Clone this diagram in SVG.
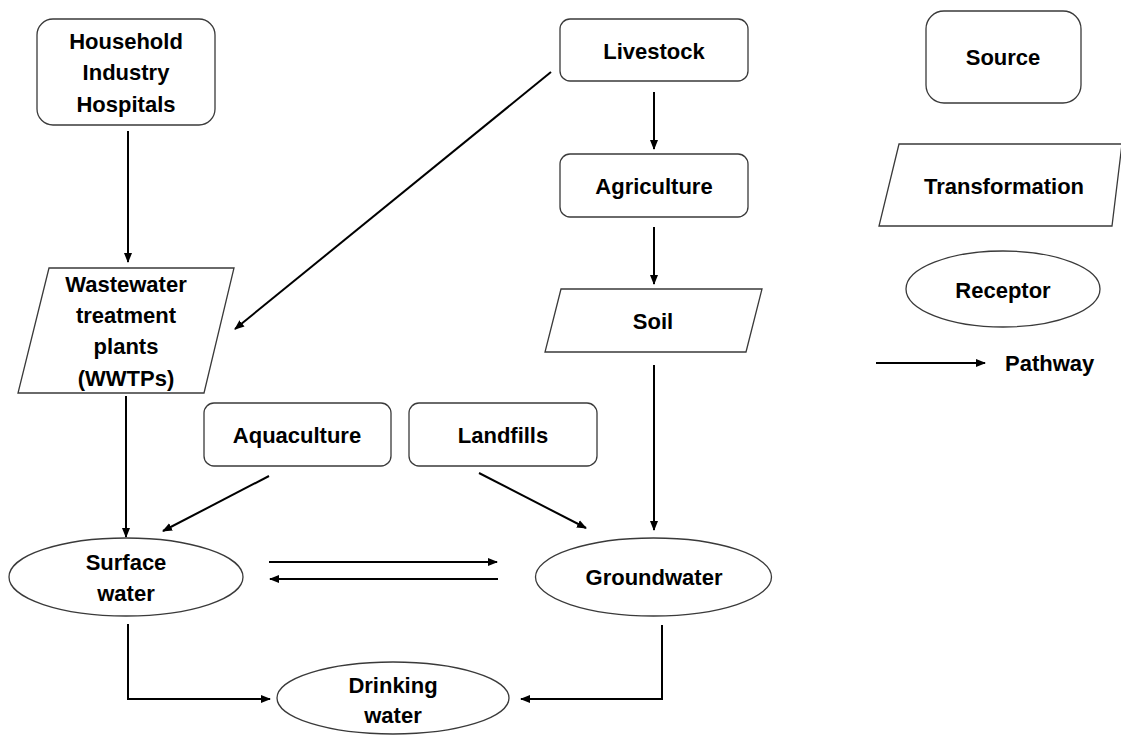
<svg xmlns="http://www.w3.org/2000/svg" width="1121" height="736" viewBox="0 0 1121 736">
<style>
.box{fill:#fff;stroke:#3a3a3a;stroke-width:1.3}
.t{font-family:"Liberation Sans",Arial,sans-serif;font-weight:bold;font-size:22px;fill:#000;text-anchor:middle}
.c{fill:none;stroke:#000;stroke-width:2}
</style>
<defs>
<marker id="ah" markerUnits="userSpaceOnUse" markerWidth="10" markerHeight="10" viewBox="0 0 10 10" refX="9" refY="5" orient="auto">
<path d="M0,1 L10,5 L0,9 Z" fill="#000"/>
</marker>
</defs>
<rect width="1121" height="736" fill="#fff"/>
<g id="connectors">
<line class="c" x1="128" y1="131" x2="128" y2="262" marker-end="url(#ah)"/>
<line class="c" x1="551" y1="72" x2="235" y2="329" marker-end="url(#ah)"/>
<line class="c" x1="654" y1="92" x2="654" y2="149" marker-end="url(#ah)"/>
<line class="c" x1="654" y1="227" x2="654" y2="284" marker-end="url(#ah)"/>
<line class="c" x1="654" y1="365" x2="654" y2="530" marker-end="url(#ah)"/>
<line class="c" x1="126" y1="396" x2="126" y2="537" marker-end="url(#ah)"/>
<line class="c" x1="269" y1="476" x2="163" y2="531" marker-end="url(#ah)"/>
<line class="c" x1="479" y1="473" x2="586" y2="528" marker-end="url(#ah)"/>
<line class="c" x1="269" y1="562" x2="497" y2="562" marker-end="url(#ah)"/>
<line class="c" x1="498" y1="579" x2="270" y2="579" marker-end="url(#ah)"/>
<polyline class="c" points="128,624 128,699 270,699" marker-end="url(#ah)"/>
<polyline class="c" points="662,625 662,699 521,699" marker-end="url(#ah)"/>
<line class="c" x1="876" y1="363" x2="985" y2="363" marker-end="url(#ah)"/>
</g>
<g id="household">
<rect class="box" x="37" y="19" width="178" height="106" rx="16"/>
<text class="t" x="126" y="49">Household</text>
<text class="t" x="126" y="80">Industry</text>
<text class="t" x="126" y="112">Hospitals</text>
</g>
<g id="livestock">
<rect class="box" x="560" y="19" width="188" height="62" rx="10"/>
<text class="t" x="654" y="59">Livestock</text>
</g>
<g id="agriculture">
<rect class="box" x="560" y="154" width="188" height="63" rx="10"/>
<text class="t" x="654" y="194">Agriculture</text>
</g>
<g id="soil">
<polygon class="box" points="561,289 762,289 746,352 545,352"/>
<text class="t" x="653" y="329">Soil</text>
</g>
<g id="wwtps">
<polygon class="box" points="49,268 234,268 204,393 18,393"/>
<text class="t" x="126" y="292">Wastewater</text>
<text class="t" x="126" y="323">treatment</text>
<text class="t" x="126" y="354">plants</text>
<text class="t" x="126" y="386">(WWTPs)</text>
</g>
<g id="aquaculture">
<rect class="box" x="204" y="403" width="187" height="63" rx="10"/>
<text class="t" x="297" y="443">Aquaculture</text>
</g>
<g id="landfills">
<rect class="box" x="409" y="403" width="188" height="63" rx="10"/>
<text class="t" x="503" y="443">Landfills</text>
</g>
<g id="surface-water">
<ellipse class="box" cx="126" cy="577" rx="117" ry="39"/>
<text class="t" x="126" y="570">Surface</text>
<text class="t" x="126" y="601">water</text>
</g>
<g id="groundwater">
<ellipse class="box" cx="653.5" cy="577" rx="118" ry="39"/>
<text class="t" x="654" y="585">Groundwater</text>
</g>
<g id="drinking-water">
<ellipse class="box" cx="393" cy="698" rx="116" ry="36"/>
<text class="t" x="393" y="693">Drinking</text>
<text class="t" x="393" y="723">water</text>
</g>
<g id="legend-source">
<rect class="box" x="926" y="11" width="155" height="92" rx="18"/>
<text class="t" x="1003" y="65">Source</text>
</g>
<g id="legend-transformation">
<polygon class="box" points="899,144 1122,144 1112,226 879,226"/>
<text class="t" x="1004" y="194">Transformation</text>
</g>
<g id="legend-receptor">
<ellipse class="box" cx="1003" cy="289" rx="97" ry="38"/>
<text class="t" x="1003" y="298">Receptor</text>
</g>
<g id="legend-pathway">
<text class="t" x="1005" y="371" style="text-anchor:start">Pathway</text>
</g>
</svg>
